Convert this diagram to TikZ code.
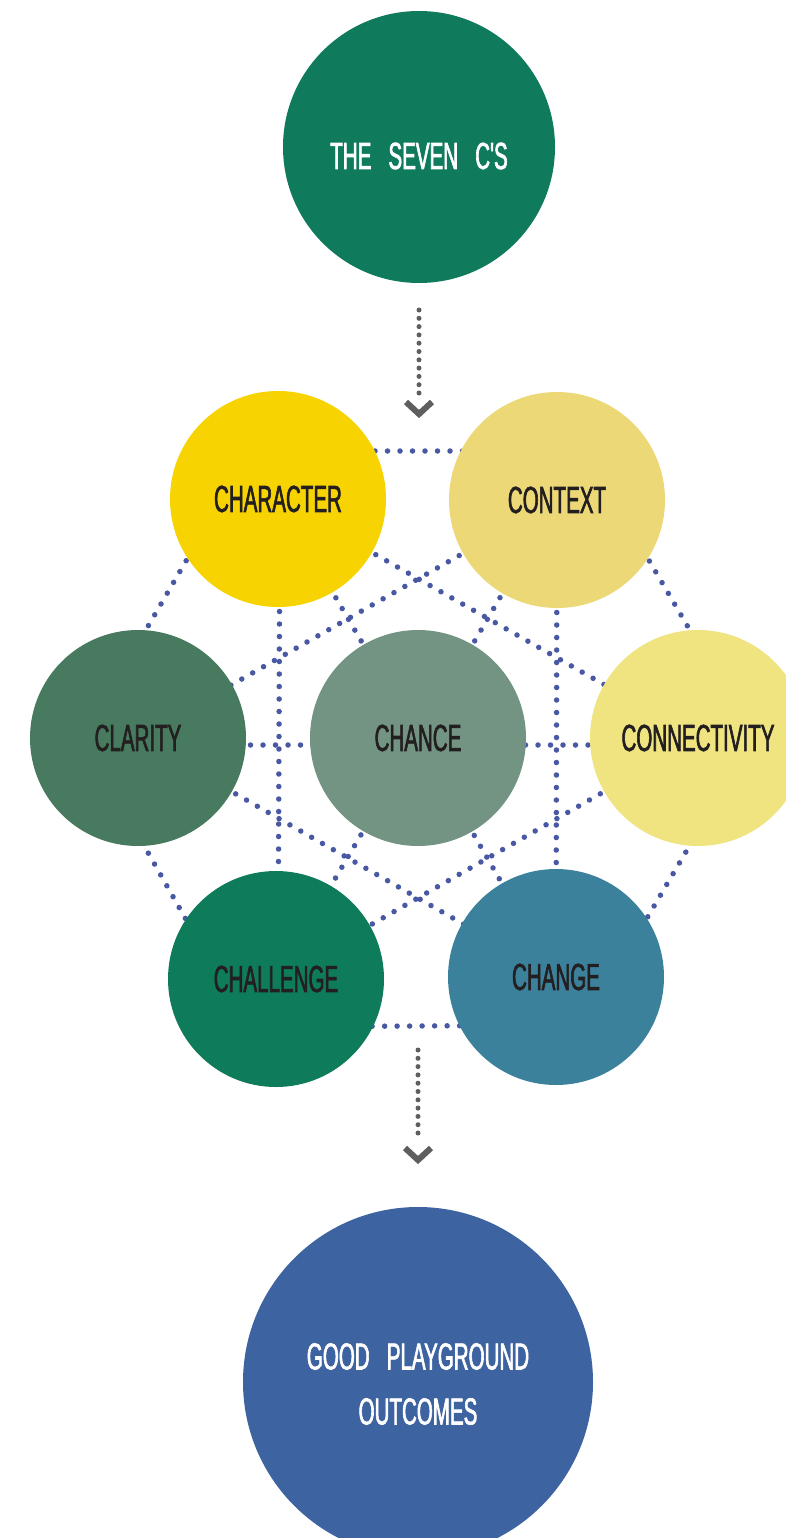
\documentclass[tikz,border=0pt]{standalone}
\usepackage{fontspec}
\newfontfamily\cfont[FakeStretch=0.545,WordSpace=3]{Liberation Sans}
\newfontfamily\dfont[FakeStretch=0.545,FakeBold=1.6,WordSpace=3]{Liberation Sans}
\usetikzlibrary{calc}
\definecolor{topgreen}{HTML}{0F7B5C}
\definecolor{charY}{HTML}{F7D302}
\definecolor{ctxY}{HTML}{ECD877}
\definecolor{clarG}{HTML}{477A5E}
\definecolor{chanceG}{HTML}{739483}
\definecolor{connY}{HTML}{EFE47F}
\definecolor{chalG}{HTML}{0E7B5A}
\definecolor{changeB}{HTML}{3C819C}
\definecolor{goodB}{HTML}{3E63A1}
\definecolor{dotB}{HTML}{4858A3}
\definecolor{arrG}{HTML}{5E5E5E}
\definecolor{darktxt}{HTML}{231F20}
\pgfdeclarelayer{bg}
\pgfsetlayers{bg,main}
\begin{document}
\begin{tikzpicture}[x=1pt,y=-1pt,
  disc/.style={circle,inner sep=0pt,minimum size=216pt,text=darktxt,
    font=\dfont\fontsize{37.7}{40}\selectfont},
  bigdisc/.style={circle,inner sep=0pt,text=white},
  lbl/.style={inner sep=0pt,font=\dfont\fontsize{37.7}{55}\selectfont,text=white,align=center},
  bdots/.style={draw=dotB,line width=5.5pt,line cap=round,dash pattern=on 0pt off 12.5pt},
  gdots/.style={draw=arrG,line width=5pt,line cap=round,dash pattern=on 0pt off 8.3pt},
  chev/.style={draw=arrG,line width=6pt,line join=miter}]
\useasboundingbox (0,0) rectangle (785,1538);

% top and bottom circles
\node[bigdisc,fill=topgreen,minimum size=272pt] (top) at (419,147) {};
\node[lbl] (toptxt) at (419,156) {THE SEVEN C'S};
\node[bigdisc,fill=goodB,minimum size=350pt] (good) at (418,1382) {};
\node[lbl] (goodtxt) at (418,1384) {GOOD PLAYGROUND\\OUTCOMES};

% seven C's
\node[disc,fill=charY] (char) at (278,499) {CHARACTER};
\node[disc,fill=ctxY] (ctx) at (557,500) {CONTEXT};
\node[disc,fill=connY] (conn) at (698,738) {CONNECTIVITY};
\node[disc,fill=changeB] (chg) at (556,977) {CHANGE};
\node[disc,fill=chalG] (chl) at (276,979) {CHALLENGE};
\node[disc,fill=clarG] (clr) at (138,738) {CLARITY};
\node[disc,fill=chanceG] (chance) at (418,738) {CHANCE};

% outer hexagon corners
\coordinate (o1) at (250,451);
\coordinate (o2) at (585,451);
\coordinate (o3) at (753,738);
\coordinate (o4) at (584,1025);
\coordinate (o5) at (247,1027);
\coordinate (o6) at (83,738);

% arrows
\coordinate (a1s) at (419,310);
\coordinate (a1e) at (419,398);
\coordinate (a1t) at (419,414);
\coordinate (a2s) at (418,1050);
\coordinate (a2e) at (418,1140);
\coordinate (a2t) at (418,1160);
\draw[gdots] (a1s) -- (a1e);
\draw[chev] ($(a1t)+(-13,-12)$) -- (a1t) -- ($(a1t)+(13,-12)$);
\draw[gdots] (a2s) -- (a2e);
\draw[chev] ($(a2t)+(-13,-12)$) -- (a2t) -- ($(a2t)+(13,-12)$);

\begin{pgfonlayer}{bg}
\fill[white] (0,0) rectangle (785,1538);
\draw[bdots] (o1) -- (o2) -- (o3) -- (o4) -- (o5) -- (o6) -- cycle;
% star triangles
\draw[bdots] (char.center) -- (conn.center);
\draw[bdots] (conn.center) -- (chl.center);
\draw[bdots] ([xshift=2pt]char.center) -- ([xshift=2pt]chl.center);
\draw[bdots] (ctx.center) -- (clr.center);
\draw[bdots] (clr.center) -- (chg.center);
\draw[bdots] (ctx.center) -- (chg.center);
% spokes
\draw[bdots] (chance.center) -- (char.center);
\draw[bdots] (chance.center) -- (ctx.center);
\draw[bdots] (chance.center) -- (chl.center);
\draw[bdots] (chance.center) -- (chg.center);
\draw[bdots] ([yshift=-7pt]clr.center) -- ([yshift=-7pt]conn.center);
\end{pgfonlayer}
\end{tikzpicture}
\end{document}
